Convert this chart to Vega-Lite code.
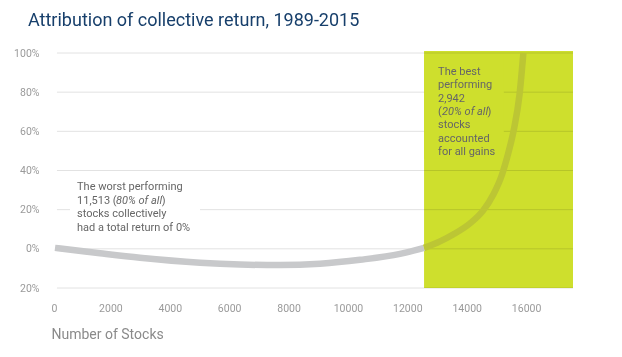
{
  "$schema": "https://vega.github.io/schema/vega-lite/v6.json",
  "width": 522,
  "height": 235,
  "autosize": {"type": "none"},
  "padding": {"left": 51, "top": 53, "right": 49, "bottom": 69},
  "background": "white",
  "config": {"view": {"stroke": null}, "font": "Roboto", "axis": {"labelOverlap": false}},
  "title": {
    "text": "Attribution of collective return, 1989-2015",
    "anchor": "start",
    "frame": "group",
    "fontSize": 18,
    "fontWeight": "normal",
    "color": "#173f6b",
    "dx": -23,
    "offset": 10
  },
  "datasets": {
    "curve": [
      {"x": 135, "y": 0.5},
      {"x": 1651, "y": -2.3},
      {"x": 2998, "y": -4.6},
      {"x": 5019, "y": -7.1},
      {"x": 6366, "y": -8.0},
      {"x": 7714, "y": -8.3},
      {"x": 9061, "y": -7.6},
      {"x": 10408, "y": -5.6},
      {"x": 11755, "y": -2.6},
      {"x": 12564, "y": 0.5},
      {"x": 13103, "y": 3.8},
      {"x": 13541, "y": 7.3},
      {"x": 14113, "y": 13.0},
      {"x": 14551, "y": 19.5},
      {"x": 14888, "y": 27.5},
      {"x": 15191, "y": 38.0},
      {"x": 15393, "y": 48.5},
      {"x": 15579, "y": 60.2},
      {"x": 15781, "y": 79.0},
      {"x": 15909, "y": 100}
    ],
    "grid": [{"pct": 100}, {"pct": 80}, {"pct": 60}, {"pct": 40}, {"pct": 20}, {"pct": 0}, {"pct": -20}],
    "box": [{"x0": 12564, "x1": 17580, "y0": -20, "y1": 101}],
    "whiteMask": [{"x0": 640, "x1": 5019, "y0": 6.1, "y1": 37.2}],
    "greenMask": [{"x0": 12564, "x1": 15250, "y0": 46, "y1": 99}],
    "notes": [
      {"x": 876, "y": 30.1, "t": "The worst performing", "it": false},
      {"x": 876, "y": 23.0, "t": "11,513 (", "it": false},
      {"x": 2189, "y": 23.0, "t": "80% of all", "it": true},
      {"x": 3730, "y": 23.0, "t": ")", "it": false},
      {"x": 876, "y": 16.1, "t": "stocks collectively", "it": false},
      {"x": 876, "y": 9.2, "t": "had a total return of 0%", "it": false},
      {"x": 13036, "y": 88.8, "t": "The best", "it": false},
      {"x": 13036, "y": 82.0, "t": "performing", "it": false},
      {"x": 13036, "y": 75.2, "t": "2,942", "it": false},
      {"x": 13036, "y": 68.4, "t": "(", "it": false},
      {"x": 13170, "y": 68.4, "t": "20% of all", "it": true},
      {"x": 14700, "y": 68.4, "t": ")", "it": false},
      {"x": 13036, "y": 61.6, "t": "stocks", "it": false},
      {"x": 13036, "y": 54.8, "t": "accounted", "it": false},
      {"x": 13036, "y": 48.0, "t": "for all gains", "it": false}
    ]
  },
  "layer": [
    {
      "data": {"name": "box"},
      "mark": {"type": "rect", "color": "#cedf2d"},
      "encoding": {
        "x": {
          "field": "x0", "type": "quantitative",
          "scale": {"domain": [0, 17580], "nice": false, "zero": false},
          "axis": {
            "values": [0, 2000, 4000, 6000, 8000, 10000, 12000, 14000, 16000],
            "format": "d",
            "domain": false, "ticks": false, "grid": false, "labelOverlap": false,
            "labelPadding": 15, "labelFontSize": 10.5, "labelColor": "#9a9a9a",
            "title": "Number of Stocks", "titleFontSize": 14, "titleFontWeight": "normal",
            "titleColor": "#8a8a8a", "titleAnchor": "start", "titleAlign": "left", "titlePadding": 14
          }
        },
        "x2": {"field": "x1"},
        "y": {
          "field": "y0", "type": "quantitative",
          "scale": {"domain": [-20, 100], "nice": false, "zero": false},
          "axis": {
            "tickCount": 7,
            "labelExpr": "abs(datum.value) + '%'",
            "domain": false, "ticks": false, "grid": false, "labelOverlap": false,
            "labelPadding": 12, "labelFontSize": 10.5, "labelColor": "#9a9a9a",
            "title": null
          }
        },
        "y2": {"field": "y1"}
      }
    },
    {
      "data": {"name": "grid"},
      "mark": {"type": "rule", "color": "#e2e2e2", "strokeWidth": 1, "blend": "multiply"},
      "encoding": {
        "y": {"field": "pct", "type": "quantitative"},
        "x": {"datum": 200, "type": "quantitative"},
        "x2": {"datum": 17580}
      }
    },
    {
      "data": {"name": "whiteMask"},
      "mark": {"type": "rect", "color": "white"},
      "encoding": {
        "x": {"field": "x0", "type": "quantitative"},
        "x2": {"field": "x1"},
        "y": {"field": "y0", "type": "quantitative"},
        "y2": {"field": "y1"}
      }
    },
    {
      "data": {"name": "greenMask"},
      "mark": {"type": "rect", "color": "#cedf2d"},
      "encoding": {
        "x": {"field": "x0", "type": "quantitative"},
        "x2": {"field": "x1"},
        "y": {"field": "y0", "type": "quantitative"},
        "y2": {"field": "y1"}
      }
    },
    {
      "data": {"name": "curve"},
      "transform": [{"filter": "datum.x <= 12564"}],
      "mark": {"type": "line", "color": "#c8c9cb", "strokeWidth": 6.5, "interpolate": "monotone"},
      "encoding": {
        "x": {"field": "x", "type": "quantitative"},
        "y": {"field": "y", "type": "quantitative"}
      }
    },
    {
      "data": {"name": "curve"},
      "transform": [{"filter": "datum.x >= 12564"}],
      "mark": {"type": "line", "color": "#bcc634", "strokeWidth": 6.5, "interpolate": "monotone"},
      "encoding": {
        "x": {"field": "x", "type": "quantitative"},
        "y": {"field": "y", "type": "quantitative"}
      }
    },
    {
      "data": {"name": "notes"},
      "transform": [{"filter": "!datum.it"}],
      "mark": {"type": "text", "align": "left", "baseline": "alphabetic", "fontSize": 11, "color": "#666666"},
      "encoding": {
        "x": {"field": "x", "type": "quantitative"},
        "y": {"field": "y", "type": "quantitative"},
        "text": {"field": "t"}
      }
    },
    {
      "data": {"name": "notes"},
      "transform": [{"filter": "datum.it"}],
      "mark": {"type": "text", "align": "left", "baseline": "alphabetic", "fontSize": 11, "fontStyle": "italic", "color": "#666666"},
      "encoding": {
        "x": {"field": "x", "type": "quantitative"},
        "y": {"field": "y", "type": "quantitative"},
        "text": {"field": "t"}
      }
    }
  ]
}
